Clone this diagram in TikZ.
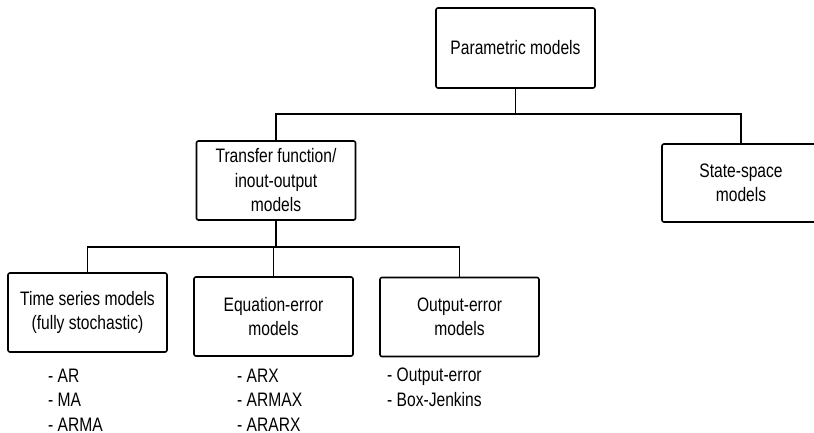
\documentclass[tikz,border=0pt]{standalone}
\usepackage{fontspec}
\setmainfont{Liberation Sans}[FakeStretch=0.8]
\begin{document}
\begin{tikzpicture}[x=1pt,y=-1pt,
  font=\fontsize{19.5}{24.5}\selectfont,
  box/.style={draw, line width=1.6pt, rounded corners=2pt,
    minimum width=159pt, minimum height=79pt, align=center, inner sep=0pt},
  link/.style={line width=1.1pt},
  lst/.style={anchor=west, align=left, inner sep=0pt}]
\useasboundingbox (0,0) rectangle (814,432);

% model hierarchy
\node[box, minimum height=80pt] (param) at (515.5,48) {Parametric models};
\node[box, minimum width=158pt, minimum height=78pt] (state) at (741,183) {State-space\\models};
\node[box] (tf) at (276,180.5) {Transfer function/\\inout-output\\models};
\node[box] (ts) at (87.5,312.5) {Time series models\\(fully stochastic)};
\node[box] (ee) at (273.5,316.5) {Equation-error\\models};
\node[box] (oe) at (459.5,317) {Output-error\\models};

% model variants under each class
\node[lst] (tslist) at (48,400) {- AR\\- MA\\- ARMA};
\node[lst] (eelist) at (237,400) {- ARX\\- ARMAX\\- ARARX};
\node[lst] (oelist) at (387,387.5) {- Output-error\\- Box-Jenkins};

% bus lines
\coordinate (bus1) at (0,114);
\coordinate (bus2) at (0,247);
\draw[link] (param.south) -- (param.south |- bus1);
\draw[link] (tf.north) |- (state.north |- bus1) -- (state.north);
\draw[link] (tf.south) -- (tf.south |- bus2);
\draw[link] (ts.north) |- (oe.north |- bus2) -- (oe.north);
\draw[link] (ee.north) -- (ee.north |- bus2);
\end{tikzpicture}
\end{document}
